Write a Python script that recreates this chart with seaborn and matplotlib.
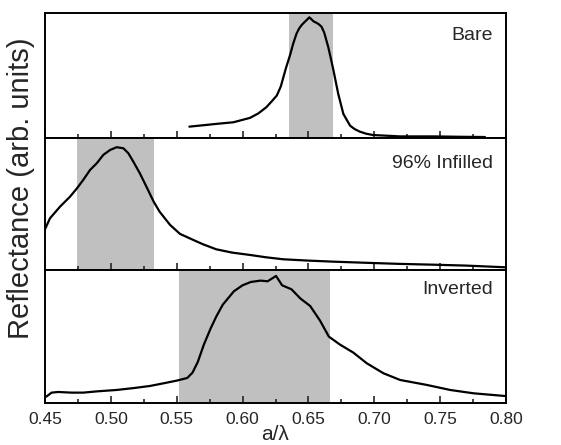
import matplotlib
matplotlib.use("Agg")
import matplotlib.pyplot as plt
from matplotlib.ticker import MultipleLocator
import seaborn as sns

# reflectance spectra, normalised to panel height
bare_x = [0.5596, 0.570, 0.580, 0.593, 0.6056, 0.612, 0.618, 0.622, 0.626, 0.629,
          0.631, 0.633, 0.636, 0.6385, 0.641, 0.643, 0.6448, 0.647, 0.649, 0.6507,
          0.652, 0.654, 0.656, 0.658, 0.660, 0.662, 0.665, 0.667, 0.669, 0.6726,
          0.6765, 0.6816, 0.685, 0.689, 0.694, 0.699, 0.7196, 0.745, 0.765, 0.784]
bare_y = [0.094, 0.105, 0.116, 0.129, 0.164, 0.200, 0.249, 0.295, 0.343, 0.415,
          0.49, 0.565, 0.665, 0.76, 0.839, 0.88, 0.906, 0.93, 0.95, 0.968,
          0.955, 0.935, 0.925, 0.912, 0.892, 0.845, 0.732, 0.64, 0.544, 0.357,
          0.196, 0.102, 0.075, 0.054, 0.037, 0.027, 0.016, 0.016, 0.013, 0.011]

infill_x = [0.45, 0.4538, 0.4614, 0.469, 0.4743, 0.479, 0.4842, 0.4893, 0.4943, 0.4994,
            0.5044, 0.5095, 0.5133, 0.517, 0.522, 0.527, 0.5325, 0.537, 0.545, 0.5525,
            0.5626, 0.570, 0.580, 0.592, 0.6056, 0.618, 0.631, 0.650, 0.669, 0.695,
            0.7196, 0.745, 0.770, 0.80]
infill_y = [0.309, 0.393, 0.481, 0.557, 0.621, 0.684, 0.760, 0.811, 0.875, 0.912,
            0.933, 0.925, 0.887, 0.824, 0.735, 0.633, 0.519, 0.443, 0.342, 0.274,
            0.228, 0.195, 0.157, 0.132, 0.114, 0.096, 0.081, 0.071, 0.063, 0.054,
            0.046, 0.040, 0.033, 0.020]

inv_x = [0.451, 0.455, 0.460, 0.470, 0.479, 0.490, 0.5044, 0.518, 0.5297, 0.540,
         0.550, 0.558, 0.562, 0.566, 0.5706, 0.5757, 0.580, 0.585, 0.5934, 0.600,
         0.6063, 0.6136, 0.619, 0.6254, 0.630, 0.6371, 0.644, 0.6513, 0.6588, 0.6655,
         0.674, 0.6841, 0.6943, 0.707, 0.7196, 0.740, 0.7576, 0.7753, 0.799]
inv_y = [0.05, 0.08, 0.085, 0.08, 0.08, 0.09, 0.10, 0.115, 0.13, 0.15,
         0.17, 0.19, 0.23, 0.31, 0.44, 0.56, 0.65, 0.74, 0.84, 0.885,
         0.91, 0.92, 0.915, 0.955, 0.885, 0.855, 0.785, 0.73, 0.62, 0.50,
         0.44, 0.38, 0.30, 0.225, 0.175, 0.1375, 0.10, 0.075, 0.055]

labels = ["Bare", "96% Infilled", "Inverted"]
band_lo = [0.635, 0.474, 0.552]
band_hi = [0.669, 0.533, 0.666]
label_y = [0.82, 0.806, 0.857]

sns.set_style("ticks")
plt.rcParams['font.family'] = ['Liberation Sans', 'DejaVu Sans']

fig, axes = plt.subplots(3, 1, sharex=True, figsize=(5.61, 4.45), dpi=100,
                         gridspec_kw=dict(height_ratios=[125, 131.5, 133.3], hspace=0))
fig.subplots_adjust(left=0.0802, right=0.902, bottom=0.0937, top=0.970)

curves = [(bare_x, bare_y), (infill_x, infill_y), (inv_x, inv_y)]
for i, ax in enumerate(axes):
    x, y = curves[i]
    ax.axvspan(band_lo[i], band_hi[i], color='#c0c0c0', lw=0, zorder=0)
    sns.lineplot(x=x, y=y, ax=ax, color='black', lw=1.6, sort=False)
    ax.text(0.972, label_y[i], labels[i], transform=ax.transAxes,
            ha='right', va='center', fontsize=14)
    ax.set_xlim(0.45, 0.80)
    ax.set_ylim(0, 1)
    ax.set_yticks([])
    ax.set_ylabel("")
    ax.xaxis.set_major_locator(MultipleLocator(0.05))
    ax.xaxis.set_minor_locator(MultipleLocator(0.025))
    ax.tick_params(axis='x', which='major', direction='in', length=5, width=1.2,
                   labelsize=12.5, pad=6)
    ax.tick_params(axis='x', which='minor', direction='in', length=3, width=1.2)
    for s in ax.spines.values():
        s.set_linewidth(1.4)
        s.set_color('black')

axes[-1].xaxis.set_major_formatter(plt.FormatStrFormatter('%.2f'))
axes[-1].set_xlabel("a/λ", fontsize=15, labelpad=-1)
fig.text(21 / 561, 1 - 188 / 445, "Reflectance (arb. units)", rotation=90,
         ha='center', va='center', fontsize=21)

fig.savefig("out.png", dpi=100)
